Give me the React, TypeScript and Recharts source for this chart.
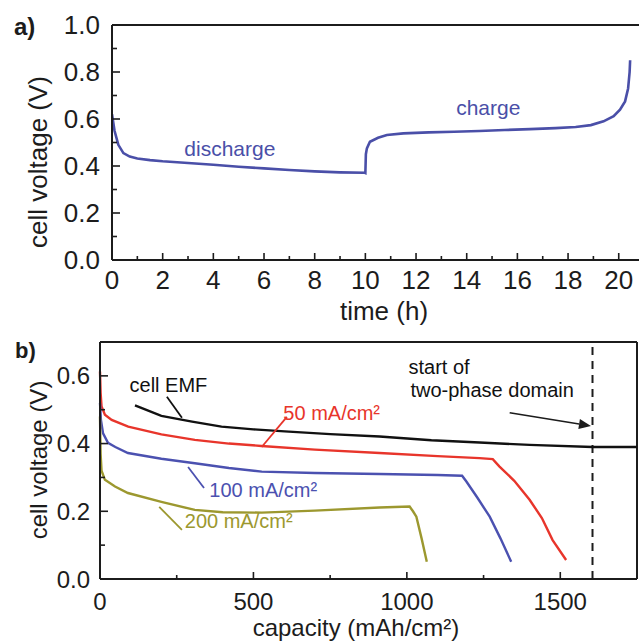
import React from "react";
import { LineChart, Line, XAxis, YAxis, ReferenceLine, ReferenceDot } from "recharts";

// panel a) – galvanostatic cycle, time (h) vs cell voltage (V)
const timeH = [0, 0.1, 0.25, 0.45, 0.7, 1, 1.5, 2, 3, 4, 5, 6, 7, 8, 9, 9.98, 10, 10.02, 10.06, 10.18, 10.5, 10.85, 11.5, 12.5, 13.5, 14.5, 15.5, 16.5, 17.5, 18.3, 18.9, 19.4, 19.8, 20.05, 20.25, 20.37, 20.43, 20.45];
const voltageA = [0.62, 0.55, 0.49, 0.455, 0.44, 0.432, 0.425, 0.42, 0.413, 0.405, 0.397, 0.39, 0.383, 0.377, 0.373, 0.371, 0.37, 0.45, 0.475, 0.503, 0.52, 0.532, 0.539, 0.543, 0.546, 0.549, 0.553, 0.557, 0.561, 0.566, 0.574, 0.59, 0.612, 0.64, 0.675, 0.73, 0.8, 0.85];

// panel b) – capacity (mAh/cm2) vs cell voltage (V)
const emfCap = [114, 200, 300, 396, 500, 602, 750, 911, 1080, 1237, 1400, 1605, 1750];
const emfV = [0.513, 0.482, 0.465, 0.45, 0.442, 0.436, 0.428, 0.421, 0.41, 0.403, 0.396, 0.39, 0.39];

const cap50 = [0, 2, 5, 16, 38, 92, 200, 309, 420, 526, 700, 911, 1100, 1237, 1280, 1302, 1350, 1400, 1440, 1475, 1519];
const v50 = [0.613, 0.55, 0.51, 0.485, 0.47, 0.45, 0.427, 0.411, 0.4, 0.393, 0.382, 0.372, 0.363, 0.357, 0.354, 0.332, 0.29, 0.234, 0.18, 0.115, 0.056];

const cap100 = [0, 3, 10, 26, 50, 91, 200, 309, 420, 527, 700, 911, 1100, 1180, 1194, 1230, 1270, 1305, 1340];
const v100 = [0.52, 0.47, 0.43, 0.402, 0.39, 0.372, 0.355, 0.342, 0.328, 0.317, 0.313, 0.31, 0.307, 0.305, 0.288, 0.24, 0.184, 0.12, 0.051];

const cap200 = [0, 2, 5, 16, 49, 91, 200, 309, 400, 527, 700, 911, 1009, 1020, 1031, 1048, 1065];
const v200 = [0.48, 0.37, 0.32, 0.293, 0.273, 0.254, 0.228, 0.204, 0.197, 0.196, 0.202, 0.211, 0.214, 0.2, 0.184, 0.12, 0.051];

const ticksTimeX = [0, 1, 2, 3, 4, 5, 6, 7, 8, 9, 10, 11, 12, 13, 14, 15, 16, 17, 18, 19, 20];
const ticksVoltA = [0, 0.1, 0.2, 0.3, 0.4, 0.5, 0.6, 0.7, 0.8, 0.9, 1.0];
const ticksCapX = [0, 250, 500, 750, 1000, 1250, 1500];
const ticksVoltB = [0, 0.1, 0.2, 0.3, 0.4, 0.5, 0.6];

const toRows = (xs: number[], ys: number[]) => xs.map((x, i) => ({ x, v: ys[i] }));

const FONT = "'Liberation Sans', Arial, Helvetica, sans-serif";
const INK = "#1c1c1c";

const BottomTick = (props: any) => {
  const { x, y, payload, major, fs, gap, fmt } = props;
  const isMajor = major(payload.value);
  return (
    <g>
      <line x1={x} y1={y} x2={x} y2={y - (isMajor ? 7 : 4)} stroke={INK} strokeWidth={1.6} />
      {isMajor && (
        <text x={x} y={y + gap} dy="0.71em" textAnchor="middle" fontSize={fs} fontFamily={FONT} fill={INK}>
          {fmt(payload.value)}
        </text>
      )}
    </g>
  );
};

const LeftTick = (props: any) => {
  const { x, y, payload, major, fs, gap } = props;
  const isMajor = major(payload.value);
  return (
    <g>
      <line x1={x} y1={y} x2={x + (isMajor ? 8 : 5)} y2={y} stroke={INK} strokeWidth={1.6} />
      {isMajor && (
        <text x={x - gap} y={y} dy="0.36em" textAnchor="end" fontSize={fs} fontFamily={FONT} fill={INK}>
          {payload.value.toFixed(1)}
        </text>
      )}
    </g>
  );
};

const evenTenth = (v: number) => Math.round(v * 10) % 2 === 0;

const Arrow = (p: any) => {
  const { x1, y1, x2, y2 } = p;
  const a = Math.atan2(y2 - y1, x2 - x1);
  const L = 12, W = 5;
  const bx = x2 - L * Math.cos(a), by = y2 - L * Math.sin(a);
  const px = -Math.sin(a) * W, py = Math.cos(a) * W;
  return (
    <g>
      <line x1={x1} y1={y1} x2={bx} y2={by} stroke={INK} strokeWidth={1.6} />
      <polygon points={`${x2},${y2} ${bx + px},${by + py} ${bx - px},${by - py}`} fill={INK} />
    </g>
  );
};

const lbl = (value: string, fill: string, fs = 20) => ({
  value,
  position: "center" as const,
  fill,
  fontSize: fs,
  fontFamily: FONT,
});

export default function App() {
  return (
    <div style={{ position: "absolute", left: 0, top: 0, width: 639, height: 641, background: "#fff", overflow: "hidden" }}>
      <div style={{ position: "absolute", left: 0, top: 0 }}>
        <LineChart width={639} height={330} margin={{ top: 25, right: 0, bottom: 0, left: 0 }}>
          <XAxis
            dataKey="x"
            type="number"
            domain={[0, 20.8]}
            ticks={ticksTimeX}
            interval={0}
            height={70}
            tickSize={0}
            tickMargin={0}
            tickLine={false}
            axisLine={{ stroke: INK, strokeWidth: 2 }}
            allowDataOverflow
            tick={<BottomTick major={(v: number) => v % 2 === 0} fs={26} gap={11} fmt={(v: number) => String(v)} />}
          />
          <YAxis
            type="number"
            domain={[0, 1]}
            ticks={ticksVoltA}
            interval={0}
            width={112}
            tickSize={0}
            tickMargin={0}
            tickLine={false}
            axisLine={{ stroke: INK, strokeWidth: 2 }}
            tick={<LeftTick major={evenTenth} fs={26} gap={12} />}
          />
          <ReferenceLine y={1} stroke={INK} strokeWidth={2} />
          <Line
            data={toRows(timeH, voltageA)}
            dataKey="v"
            type="linear"
            stroke="#4a4fa8"
            strokeWidth={2.6}
            dot={false}
            isAnimationActive={false}
          />
          <ReferenceDot x={4.65} y={0.474} r={0} label={lbl("discharge", "#4a4fa8", 21)} />
          <ReferenceDot x={14.85} y={0.649} r={0} label={lbl("charge", "#4a4fa8", 21)} />
        </LineChart>
      </div>

      <div style={{ position: "absolute", left: 0, top: 300 }}>
        <LineChart width={639} height={341} margin={{ top: 42, right: 2, bottom: 0, left: 0 }}>
          <XAxis
            dataKey="x"
            type="number"
            domain={[0, 1750]}
            ticks={ticksCapX}
            interval={0}
            height={62}
            tickSize={0}
            tickMargin={0}
            tickLine={false}
            axisLine={{ stroke: INK, strokeWidth: 2 }}
            tick={<BottomTick major={(v: number) => v % 500 === 0} fs={24} gap={14} fmt={(v: number) => String(v)} />}
          />
          <YAxis
            type="number"
            domain={[0, 0.7]}
            ticks={ticksVoltB}
            interval={0}
            width={100}
            tickSize={0}
            tickMargin={0}
            tickLine={false}
            axisLine={{ stroke: INK, strokeWidth: 2 }}
            tick={<LeftTick major={evenTenth} fs={24} gap={10} />}
          />
          <ReferenceLine y={0.7} stroke={INK} strokeWidth={2} />
          <ReferenceLine x={1750} stroke={INK} strokeWidth={2} />
          <ReferenceLine x={1605} stroke={INK} strokeWidth={2} strokeDasharray="8 6" />

          <Line data={toRows(emfCap, emfV)} dataKey="v" type="linear" stroke="#111" strokeWidth={2.4} dot={false} isAnimationActive={false} />
          <Line data={toRows(cap50, v50)} dataKey="v" type="linear" stroke="#e8352b" strokeWidth={2.4} dot={false} isAnimationActive={false} />
          <Line data={toRows(cap100, v100)} dataKey="v" type="linear" stroke="#4b51b0" strokeWidth={2.4} dot={false} isAnimationActive={false} />
          <Line data={toRows(cap200, v200)} dataKey="v" type="linear" stroke="#9c982f" strokeWidth={2.4} dot={false} isAnimationActive={false} />

          <ReferenceLine segment={[{ x: 218, y: 0.538 }, { x: 267, y: 0.476 }]} stroke="#111" strokeWidth={1.8} />
          <ReferenceLine segment={[{ x: 609, y: 0.479 }, { x: 527, y: 0.39 }]} stroke="#e8352b" strokeWidth={1.8} />
          <ReferenceLine segment={[{ x: 287, y: 0.331 }, { x: 339, y: 0.269 }]} stroke="#4b51b0" strokeWidth={1.8} />
          <ReferenceLine segment={[{ x: 193, y: 0.213 }, { x: 267, y: 0.145 }]} stroke="#9c982f" strokeWidth={1.8} />
          <ReferenceLine segment={[{ x: 1335, y: 0.491 }, { x: 1600, y: 0.452 }]} shape={Arrow} />

          <ReferenceDot x={223} y={0.574} r={0} label={lbl("cell EMF", "#111")} />
          <ReferenceDot x={755} y={0.491} r={0} label={lbl("50 mA/cm²", "#e8352b")} />
          <ReferenceDot x={532} y={0.263} r={0} label={lbl("100 mA/cm²", "#4b51b0")} />
          <ReferenceDot x={452} y={0.172} r={0} label={lbl("200 mA/cm²", "#9c982f")} />
          <ReferenceDot x={1105} y={0.625} r={0} label={lbl("start of", "#111")} />
          <ReferenceDot x={1278} y={0.56} r={0} label={lbl("two-phase domain", "#111")} />
        </LineChart>
      </div>

      <svg width={639} height={641} style={{ position: "absolute", left: 0, top: 0, pointerEvents: "none" }} fontFamily={FONT} fill={INK}>
        <text x={14} y={35} fontSize={24} fontWeight="bold">a)</text>
        <text x={15} y={358} fontSize={22} fontWeight="bold">b)</text>
        <text x={47} y={162} fontSize={26} textAnchor="middle" transform="rotate(-90 47 162)">cell voltage (V)</text>
        <text x={47} y={460} fontSize={24} textAnchor="middle" transform="rotate(-90 47 460)">cell voltage (V)</text>
        <text x={384} y={320} fontSize={26} textAnchor="middle">time (h)</text>
        <text x={356} y={636} fontSize={24} textAnchor="middle">capacity (mAh/cm²)</text>
      </svg>
    </div>
  );
}
